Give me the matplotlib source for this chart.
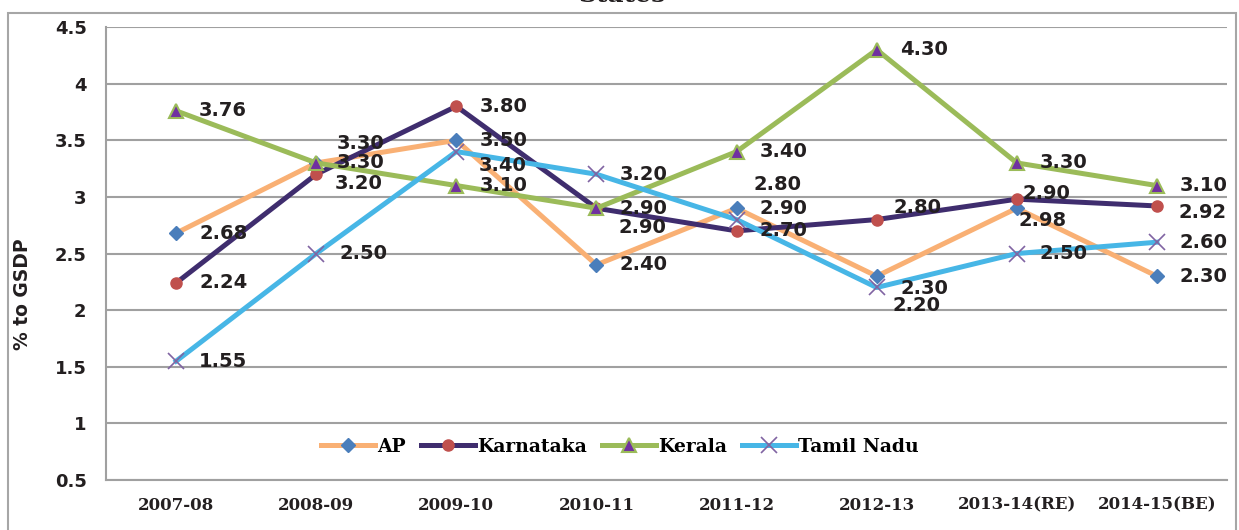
import matplotlib
matplotlib.use('Agg')
import matplotlib.pyplot as plt
from matplotlib.patches import Rectangle

# Data
years = ['2007-08', '2008-09', '2009-10', '2010-11', '2011-12', '2012-13',
         '2013-14(RE)', '2014-15(BE)']
ap = [2.68, 3.30, 3.50, 2.40, 2.90, 2.30, 2.90, 2.30]
karnataka = [2.24, 3.20, 3.80, 2.90, 2.70, 2.80, 2.98, 2.92]
kerala = [3.76, 3.30, 3.10, 2.90, 3.40, 4.30, 3.30, 3.10]
tamil_nadu = [1.55, 2.50, 3.40, 3.20, 2.80, 2.20, 2.50, 2.60]
y_ticks = [0.5, 1, 1.5, 2, 2.5, 3, 3.5, 4, 4.5]

fig = plt.figure(figsize=(12.39, 5.30), dpi=100)
ax = fig.add_axes([0.0856, 0.0943, 0.9047, 0.8547])

x = list(range(len(years)))

series = [
    ('AP', ap, dict(color='#F9B074', marker='D', markersize=7.5,
                    markerfacecolor='#4A7EBB', markeredgecolor='#4A7EBB')),
    ('Karnataka', karnataka, dict(color='#3F2D6E', marker='o', markersize=8,
                                  markerfacecolor='#C0504D', markeredgecolor='#C0504D')),
    ('Kerala', kerala, dict(color='#9BBB59', marker='^', markersize=10,
                            markerfacecolor='#7030A0', markeredgecolor='#9BBB59',
                            markeredgewidth=1.5)),
    ('Tamil Nadu', tamil_nadu, dict(color='#47B6E6', marker='x', markersize=11,
                                    markeredgecolor='#8064A2', markeredgewidth=1.2)),
]

for name, vals, style in series:
    ax.plot(x, vals, linewidth=3.6, label=name, zorder=3, **style)

# label offsets in pixels (dx, dy); default to the right of the point
offsets = {
    ('AP', 1): (20, 19),
    ('Karnataka', 1): (18, -9),
    ('Kerala', 1): (20, 0),
    ('Tamil Nadu', 2): (22, -14),
    ('Karnataka', 3): (22, -19),
    ('Tamil Nadu', 4): (17, 35),
    ('Karnataka', 5): (17, 12),
    ('AP', 5): (24, -12),
    ('Tamil Nadu', 5): (16, -18),
    ('AP', 6): (6, 15),
    ('Karnataka', 6): (2, -21),
    ('Kerala', 6): (23, 0),
    ('Karnataka', 7): (22, -7),
}

for name, vals, style in series:
    for i, v in enumerate(vals):
        dx, dy = offsets.get((name, i), (23, 0))
        ax.annotate(f'{v:.2f}', (i, v), xytext=(dx, dy), textcoords='offset pixels',
                    ha='left', va='center', fontsize=14, fontweight='bold',
                    family='DejaVu Sans', color='#231F20', zorder=5)

ax.set_xlim(-0.5, len(years) - 0.5)
ax.set_ylim(0.5, 4.5)
ax.set_yticks(y_ticks)
ax.set_yticklabels([f'{t:g}' for t in y_ticks], fontsize=13, fontweight='bold',
                   family='DejaVu Sans', color='#231F20')
ax.set_xticks(x)
ax.set_xticklabels(years, fontsize=12, fontweight='bold', family='DejaVu Serif',
                   color='#231F20')
ax.tick_params(axis='both', length=0)
ax.tick_params(axis='y', pad=14)
ax.tick_params(axis='x', pad=12)

# Gridlines
ax.grid(axis='y', color='#A0A0A0', linewidth=1.5, zorder=0)
ax.set_axisbelow(True)

for side in ['top', 'right']:
    ax.spines[side].set_visible(False)
ax.spines['left'].set_color('#A0A0A0')
ax.spines['left'].set_linewidth(1.5)
ax.spines['bottom'].set_color('#A0A0A0')
ax.spines['bottom'].set_linewidth(1.5)

ax.set_ylabel('% to GSDP', fontsize=13.5, fontweight='bold', family='DejaVu Sans',
              color='#231F20')
ax.yaxis.set_label_coords(-0.066, 0.41)

ax.legend(loc='center', bbox_to_anchor=(0.4585, 0.073), ncol=4, frameon=False,
          prop={'family': 'DejaVu Serif', 'weight': 'bold', 'size': 13.5},
          handlelength=2.9, handletextpad=0.1, columnspacing=0.8)

# Title, cut off at the top of the image
fig.text(0.502, 0.986, 'States', ha='center', va='bottom', fontsize=18,
         fontweight='bold', family='DejaVu Serif', color='#231F20')

# Outer chart border
fig.patches.append(Rectangle((8 / 1239, -0.05), 1228 / 1239, 1.05 - 13 / 530,
                             transform=fig.transFigure, fill=False,
                             edgecolor='#A6A6A6', linewidth=1.5))

plt.savefig('out.png', dpi=100)
